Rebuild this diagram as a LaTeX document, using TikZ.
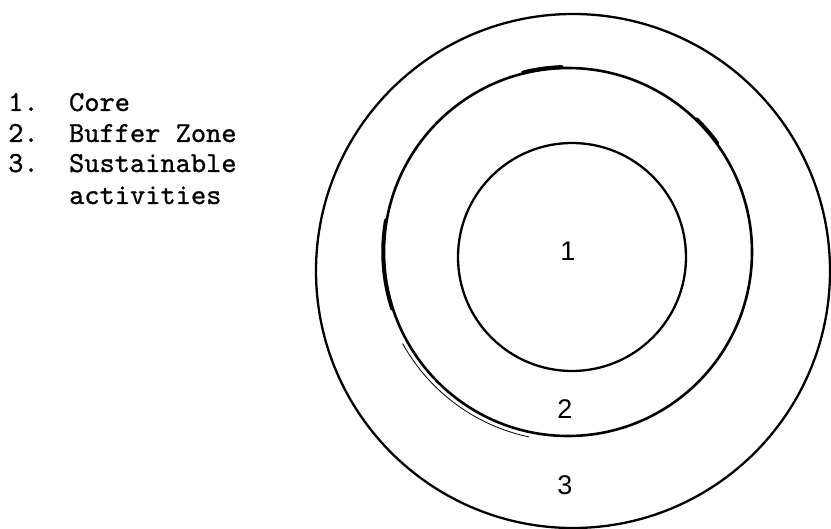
\documentclass[tikz,border=0pt]{standalone}
\usepackage{fontspec}
\newfontfamily\twfont{lmmono10-regular.otf}[FakeBold=0.9]
\newfontfamily\lblfont{Liberation Sans}
\begin{document}
\begin{tikzpicture}[x=1pt,y=-1pt,
  ring/.style={circle, draw=black, line width=2.3pt, inner sep=0pt, fill=none},
  legend/.style={anchor=base west, inner sep=0pt, font=\twfont\fontsize{29}{33}\selectfont},
  zone/.style={font=\lblfont\fontsize{27}{31}\selectfont, inner sep=0pt},
  sketch/.style={line width=#1, line cap=round}]
\useasboundingbox (0,0) rectangle (831,529);
% rings
\node[ring, minimum size=514pt] (outer) at (573,271) {};
\node[ring, line width=2.6pt, minimum size=368pt] (mid) at (568,252) {};
\node[ring, minimum size=228pt] (inner) at (572,257) {};
% sketchy doubling of the middle ring (angles measured with y up)
\begin{scope}[shift={(mid.center)}, x=1pt, y=1pt]
  \draw[sketch=0.8pt] (209:189) arc[start angle=209, end angle=258, radius=189];
  \draw[sketch=4pt] (92:185) arc[start angle=92, end angle=104, radius=185];
  \draw[sketch=3.5pt] (36:185) arc[start angle=36, end angle=46, radius=185];
  \draw[sketch=3.5pt] (170:185) arc[start angle=170, end angle=198, radius=185];
\end{scope}
% zone labels
\node[zone] (l1) at (568,251) {1};
\node[zone] (l2) at (565,409) {2};
\node[zone] (l3) at (565,485) {3};
% legend
\node[legend] (k1) at (8,111) {1.\ \ Core};
\node[legend] (k2) at (8,142) {2.\ \ Buffer Zone};
\node[legend] (k3) at (8,172) {3.\ \ Sustainable};
\node[legend] (k4) at (69,204) {activities};
\end{tikzpicture}
\end{document}
